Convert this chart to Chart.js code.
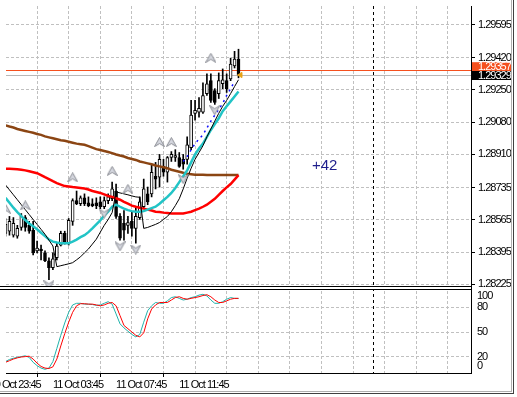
<!DOCTYPE html>
<html>
<head>
<meta charset="utf-8">
<title>EURUSD M15</title>
<script src="https://cdn.jsdelivr.net/npm/chart.js@4.4.1/dist/chart.umd.min.js"></script>
<style>
html, body { margin: 0; padding: 0; background: #fff; overflow: hidden; }
#box { width: 517px; height: 397px; }
</style>
</head>
<body>
<div id="box"><canvas id="chart" width="517" height="397"></canvas></div>
<script>
// bar index of the first value in every series below (M15 bars)
var firstBar = -1;

var opens = [1.28494,1.28505,1.28484,1.28479,1.28525,1.28577,1.28536,1.28510,1.28401,1.28411,
  1.28391,1.28349,1.28313,1.28365,1.28432,1.28494,1.28442,1.28557,1.28666,1.28650,
  1.28681,1.28655,1.28650,1.28655,1.28660,1.28634,1.28666,1.28676,1.28717,1.28583,
  1.28546,1.28536,1.28557,1.28520,1.28577,1.28634,1.28702,1.28702,1.28795,1.28790,
  1.28847,1.28816,1.28894,1.28894,1.28894,1.28884,1.28884,1.28946,1.29127,1.29133,
  1.29133,1.29231,1.29299,1.29247,1.29231,1.29283,1.29299,1.29309,1.29377,1.29413];
var highs = [1.28572,1.28583,1.28577,1.28536,1.28598,1.28588,1.28557,1.28557,1.28453,1.28432,
  1.28401,1.28365,1.28391,1.28442,1.28505,1.28505,1.28572,1.28676,1.28717,1.28691,
  1.28702,1.28686,1.28676,1.28681,1.28686,1.28686,1.28702,1.28764,1.28754,1.28598,
  1.28614,1.28583,1.28608,1.28634,1.28686,1.28780,1.28738,1.28858,1.28868,1.28910,
  1.28884,1.28899,1.28925,1.28935,1.28920,1.28910,1.29003,1.29195,1.29195,1.29210,
  1.29288,1.29335,1.29335,1.29257,1.29340,1.29361,1.29335,1.29418,1.29454,1.29465];
var lows = [1.28479,1.28484,1.28474,1.28468,1.28510,1.28505,1.28494,1.28380,1.28391,1.28354,
  1.28344,1.28250,1.28302,1.28354,1.28427,1.28437,1.28432,1.28536,1.28645,1.28640,
  1.28640,1.28634,1.28634,1.28624,1.28624,1.28624,1.28650,1.28666,1.28572,1.28458,
  1.28458,1.28494,1.28479,1.28442,1.28567,1.28624,1.28645,1.28686,1.28728,1.28738,
  1.28795,1.28764,1.28873,1.28873,1.28842,1.28832,1.28858,1.28935,1.29091,1.29107,
  1.29127,1.29221,1.29185,1.29174,1.29205,1.29257,1.29237,1.29299,1.29366,1.29314];
var closes = [1.28541,1.28557,1.28546,1.28520,1.28583,1.28525,1.28505,1.28391,1.28416,1.28401,
  1.28349,1.28313,1.28359,1.28427,1.28494,1.28442,1.28562,1.28666,1.28650,1.28681,
  1.28650,1.28640,1.28640,1.28640,1.28634,1.28666,1.28686,1.28728,1.28583,1.28468,
  1.28510,1.28551,1.28520,1.28583,1.28660,1.28728,1.28660,1.28816,1.28780,1.28884,
  1.28816,1.28894,1.28910,1.28904,1.28847,1.28858,1.28961,1.29117,1.29143,1.29153,
  1.29221,1.29283,1.29195,1.29185,1.29299,1.29304,1.29257,1.29387,1.29413,1.29329];

var maSlow = [1.29063,1.29057,1.29052,1.29044,1.29039,1.29034,1.29029,1.29024,1.29018,1.29013,
  1.29005,1.29000,1.28995,1.28990,1.28985,1.28982,1.28977,1.28972,1.28967,1.28964,
  1.28961,1.28954,1.28946,1.28938,1.28933,1.28928,1.28923,1.28917,1.28910,1.28904,
  1.28899,1.28891,1.28886,1.28881,1.28873,1.28868,1.28863,1.28858,1.28852,1.28847,
  1.28842,1.28837,1.28829,1.28824,1.28819,1.28813,1.28808,1.28806,1.28803,1.28803,
  1.28803,1.28801,1.28801,1.28801,1.28801,1.28801,1.28801,1.28801,1.28801,1.28801];
var maRed = [1.28835,1.28834,1.28833,1.28832,1.28829,1.28826,1.28821,1.28816,1.28811,1.28801,
  1.28790,1.28780,1.28769,1.28759,1.28751,1.28743,1.28741,1.28738,1.28736,1.28733,
  1.28730,1.28725,1.28717,1.28712,1.28707,1.28699,1.28691,1.28686,1.28679,1.28671,
  1.28660,1.28650,1.28640,1.28634,1.28629,1.28624,1.28619,1.28614,1.28608,1.28606,
  1.28603,1.28601,1.28598,1.28598,1.28598,1.28598,1.28603,1.28608,1.28616,1.28624,
  1.28634,1.28645,1.28660,1.28676,1.28697,1.28717,1.28736,1.28754,1.28777,1.28801];
var maFast = [1.28681,1.28655,1.28629,1.28606,1.28585,1.28564,1.28546,1.28531,1.28515,1.28497,
  1.28479,1.28461,1.28450,1.28445,1.28442,1.28442,1.28442,1.28450,1.28461,1.28474,
  1.28484,1.28500,1.28520,1.28541,1.28562,1.28588,1.28608,1.28634,1.28645,1.28634,
  1.28624,1.28616,1.28611,1.28608,1.28608,1.28611,1.28619,1.28627,1.28634,1.28650,
  1.28668,1.28686,1.28707,1.28733,1.28764,1.28795,1.28826,1.28868,1.28910,1.28941,
  1.28967,1.29003,1.29039,1.29070,1.29101,1.29138,1.29164,1.29190,1.29216,1.29242];
var trailStop = [1.28749,1.28723,1.28697,1.28671,1.28645,1.28619,1.28593,1.28567,1.28541,1.28515,
  1.28489,1.28458,1.28427,1.28318,1.28323,1.28328,1.28333,1.28339,1.28354,1.28370,
  1.28391,1.28411,1.28437,1.28463,1.28500,1.28536,1.28567,1.28603,1.28712,1.28707,
  1.28702,1.28697,1.28691,1.28686,1.28684,1.28520,1.28525,1.28533,1.28541,1.28551,
  1.28567,1.28583,1.28608,1.28640,1.28676,1.28728,1.28785,1.28837,1.28884,1.28920,
  1.28956,1.29003,1.29044,1.29086,1.29127,1.29164,1.29195,1.29231,1.29268,1.29304];
var dotStart = 44;
var dotLine = [1.28873,1.28899,1.28935,1.28967,1.28992,1.29013,1.29050,1.29086,1.29117,1.29148,
  1.29179,1.29221,1.29257,1.29294];

var fractalUpBars = [-1, 4, 16, 26, 30, 38, 41, 51];
var fractalUpPrices = [1.28624, 1.28641, 1.28789, 1.28823, 1.28728, 1.28975, 1.28975, 1.29420];
var fractalDownBars = [10, 24, 28, 32, 44, 52];
var fractalDownPrices = [1.28219, 1.28598, 1.28425, 1.28408, 1.28780, 1.29143];

var stochMain = [14,16.5,18,19,20,21,19,13,9,6,4.5,6,14,30,46,61,74,83,85,85,
  84,84,83.5,82.5,83,85,87,84,72,60,55,51,47,44,47,62,76,82,86,85,
  85,88,92,93,91,89,90,92,93,95,96,94,89,85,85,87,90,92,91,91];
var stochSignal = [13,15,17,18.5,19.5,20,20.5,17,12,8,6,5.5,7.5,17,33,48,62,74,82,84.5,
  84.5,84,84,83,82,83,85,86,82,70,58,54,50,46,44,49,66,78,83,86,
  86,86,89,92,93,91,90,91,92,93,94.5,95.5,93,89,86,86,88,90,91,91];

var priceTicks = [1.29595, 1.29420, 1.29250, 1.29080, 1.28910, 1.28735, 1.28565, 1.28395, 1.28225];
var oscTicks = [0, 20, 50, 80, 100];
var timeTickBars = [-5, 11, 27, 43];
var timeTickLabels = ['10 Oct 23:45', '11 Oct 03:45', '11 Oct 07:45', '11 Oct 11:45'];
var askPrice = 1.29357, bidPrice = 1.29329;
var lastBar = 58.5;
var separatorBar = 92;
var profitText = '+42', profitBar = 76.6, profitPrice = 1.28826;

var FONT = "'Liberation Sans', Arial, sans-serif";

function series(values, start) {
  var out = [];
  for (var i = 0; i < values.length; i++) out.push({ x: start + i, y: values[i] });
  return out;
}
function points(bars, values) {
  return bars.map(function (b, i) { return { x: b, y: values[i] }; });
}

var wicks = [], bodies = [];
for (var i = 0; i < opens.length; i++) {
  wicks.push({ x: firstBar + i, y: [lows[i], highs[i]] });
  bodies.push({ x: firstBar + i, y: [opens[i], closes[i]] });
}

var gridBars = [];
for (var b = -5; b <= 116; b += 8) gridBars.push(b);

function arrowImage() {
  var c = document.createElement('canvas');
  c.width = 11; c.height = 10;
  var g = c.getContext('2d');
  g.beginPath();
  g.moveTo(5.5, 0.5); g.lineTo(10.5, 9.5); g.lineTo(5.5, 6.5); g.lineTo(0.5, 9.5);
  g.closePath();
  g.fillStyle = '#d4d6de'; g.fill();
  g.strokeStyle = '#8a8c94'; g.lineWidth = 1; g.stroke();
  return c;
}
var arrow = arrowImage();

function line(ctx, x1, y1, x2, y2) {
  ctx.beginPath(); ctx.moveTo(x1, y1); ctx.lineTo(x2, y2); ctx.stroke();
}

var decor = {
  id: 'decor',
  beforeDraw: function (chart) {
    // terminal fonts are narrow: tighten the tick labels
    chart.ctx.letterSpacing = '-1px';
  },
  beforeDatasetsDraw: function (chart) {
    var ctx = chart.ctx, a = chart.chartArea, x = chart.scales.x, y = chart.scales.y;
    ctx.save();
    ctx.lineWidth = 1;
    var ya = Math.round(y.getPixelForValue(askPrice)) + 0.5;
    var yb = Math.round(y.getPixelForValue(bidPrice)) + 0.5;
    ctx.strokeStyle = '#f5501e'; line(ctx, a.left, ya, a.right, ya);
    ctx.strokeStyle = '#b8b8b8'; line(ctx, a.left, yb, a.right, yb);
    var vx = Math.round(x.getPixelForValue(separatorBar)) + 0.5;
    ctx.setLineDash([3, 3]); ctx.strokeStyle = '#000';
    line(ctx, vx, a.top, vx, a.bottom);
    ctx.restore();
  },
  afterDraw: function (chart) {
    var ctx = chart.ctx, a = chart.chartArea, x = chart.scales.x, y = chart.scales.y, y2 = chart.scales.y2;
    ctx.save();
    // split between price pane and stochastic pane
    var s = Math.round(y.bottom);
    ctx.fillStyle = '#fff'; ctx.fillRect(0, s - 2, a.right, 4);
    ctx.strokeStyle = '#000'; ctx.lineWidth = 1;
    line(ctx, 0, s - 1.5, a.right, s - 1.5);
    line(ctx, 0, s + 1.5, a.right, s + 1.5);

    ctx.font = '11px ' + FONT; ctx.textAlign = 'left'; ctx.textBaseline = 'middle';
    ctx.fillStyle = '#000';
    oscTicks.forEach(function (v) {
      var py = Math.min(Math.max(y2.getPixelForValue(v), y2.top + 8.5), y2.bottom - 7);
      ctx.fillText(String(v), a.right + 6, py);
    });

    var ya = y.getPixelForValue(askPrice), yb = y.getPixelForValue(bidPrice);
    ctx.fillStyle = '#f5501e'; ctx.fillRect(a.right + 1, ya - 7.5, 40, 9);
    ctx.fillStyle = '#fff'; ctx.fillText(askPrice.toFixed(5), a.right + 7, ya - 2.5);
    ctx.fillStyle = '#000'; ctx.fillRect(a.right + 1, yb - 4, 40, 9);
    ctx.fillStyle = '#fff'; ctx.fillText(bidPrice.toFixed(5), a.right + 7, yb + 0.5);

    ctx.letterSpacing = '0px';
    ctx.font = "15px 'Liberation Sans', Arial, sans-serif"; ctx.textBaseline = 'alphabetic';
    ctx.fillStyle = '#1e1e8c';
    ctx.fillText(profitText, x.getPixelForValue(profitBar), y.getPixelForValue(profitPrice));

    // window frame
    ctx.strokeStyle = '#b0b0b0';
    line(ctx, 511.5, 0, 511.5, 392); line(ctx, 0, 391.5, 512, 391.5);
    ctx.strokeStyle = '#404040';
    line(ctx, 513.5, 0, 513.5, 394); line(ctx, 0, 393.5, 514, 393.5);
    ctx.restore();
  }
};

var ctx = document.getElementById('chart').getContext('2d');
var chart = new Chart(ctx, {
  type: 'line',
  data: {
    datasets: [
      { label: 'fractals up', data: points(fractalUpBars, fractalUpPrices), showLine: false,
        pointStyle: arrow, pointRadius: 5, order: 0 },
      { label: 'fractals down', data: points(fractalDownBars, fractalDownPrices), showLine: false,
        pointStyle: arrow, pointRotation: 180, pointRadius: 5, order: 0 },
      { label: 'last', data: [{ x: lastBar, y: bidPrice }], showLine: false,
        pointStyle: 'triangle', pointRotation: 270, pointRadius: 3,
        pointBackgroundColor: '#e8a317', pointBorderColor: '#e8a317', order: 1 },
      { label: 'dot', data: series(dotLine, dotStart), borderColor: '#1010ff', borderWidth: 1.5,
        borderDash: [2, 4], pointRadius: 0, order: 2 },
      { label: 'trail', data: series(trailStop, firstBar), borderColor: '#000', borderWidth: 1,
        pointRadius: 0, order: 3 },
      { label: 'ma fast', data: series(maFast, firstBar), borderColor: '#22c4c6', borderWidth: 2.5,
        pointRadius: 0, order: 4 },
      { label: 'ma red', data: series(maRed, firstBar), borderColor: '#ff0000', borderWidth: 2.5,
        pointRadius: 0, order: 5 },
      { label: 'ma slow', data: series(maSlow, firstBar), borderColor: '#8b4513', borderWidth: 2.5,
        pointRadius: 0, order: 6 },
      { type: 'bar', label: 'body', data: bodies, grouped: false, barThickness: 3,
        borderWidth: 1, borderColor: '#000', borderSkipped: false,
        backgroundColor: function (c) { var k = c.dataIndex; return closes[k] >= opens[k] ? '#fff' : '#000'; },
        order: 7 },
      { type: 'bar', label: 'wick', data: wicks, grouped: false, barThickness: 1,
        backgroundColor: '#000', borderWidth: 0, order: 8 },
      { label: 'signal', data: series(stochSignal, firstBar), yAxisID: 'y2', borderColor: '#ff0000',
        borderWidth: 1, pointRadius: 0, order: 0 },
      { label: 'main', data: series(stochMain, firstBar), yAxisID: 'y2', borderColor: '#20b2aa',
        borderWidth: 1, pointRadius: 0, order: 1 }
    ]
  },
  options: {
    responsive: false,
    animation: false,
    layout: { padding: 0 },
    plugins: { legend: { display: false }, tooltip: { enabled: false } },
    elements: { line: { tension: 0 } },
    scales: {
      x: {
        type: 'linear', position: 'bottom', min: -0.875, max: 116.875, offset: false,
        afterBuildTicks: function (s) { s.ticks = gridBars.map(function (v) { return { value: v }; }); },
        afterFit: function (s) { s.height = 24; s.paddingLeft = 0; s.paddingRight = 0; },
        grid: { color: '#c0c0c0', drawTicks: true, tickLength: 4,
          tickColor: function (c) { return c.tick && timeTickBars.indexOf(c.tick.value) >= 0 ? '#000' : 'rgba(0,0,0,0)'; } },
        border: { color: '#000', dash: [3, 2] },
        ticks: { autoSkip: false, maxRotation: 0, minRotation: 0, align: 'start', padding: 1,
          color: '#000', font: { family: FONT, size: 11 },
          callback: function (v) { var k = timeTickBars.indexOf(v); return k >= 0 ? timeTickLabels[k] : ''; } }
      },
      y: {
        type: 'linear', position: 'right', stack: 'panes', stackWeight: 286.5,
        min: 1.28206, max: 1.29693,
        afterBuildTicks: function (s) { s.ticks = priceTicks.map(function (v) { return { value: v }; }); },
        afterFit: function (s) { s.width = 46; s.paddingTop = 0; s.paddingBottom = 0; },
        grid: { color: '#c0c0c0', drawTicks: true, tickLength: 4, tickColor: '#000' },
        border: { color: '#000', dash: [3, 2] },
        ticks: { padding: 3, color: '#000', font: { family: FONT, size: 11 },
          callback: function (v) { return v.toFixed(5); } }
      },
      y2: {
        type: 'linear', position: 'right', stack: 'panes', stackWeight: 86.5,
        min: 0, max: 103.8,
        afterBuildTicks: function (s) {
          s.ticks = oscTicks.filter(function (v) { return v > 0 && v < 100; }).map(function (v) { return { value: v }; });
        },
        afterFit: function (s) { s.width = 46; s.paddingTop = 0; s.paddingBottom = 0; },
        grid: { color: '#c0c0c0', drawTicks: false },
        border: { color: '#000', dash: [3, 2] },
        ticks: { display: false }
      }
    }
  },
  plugins: [decor]
});
</script>
</body>
</html>
